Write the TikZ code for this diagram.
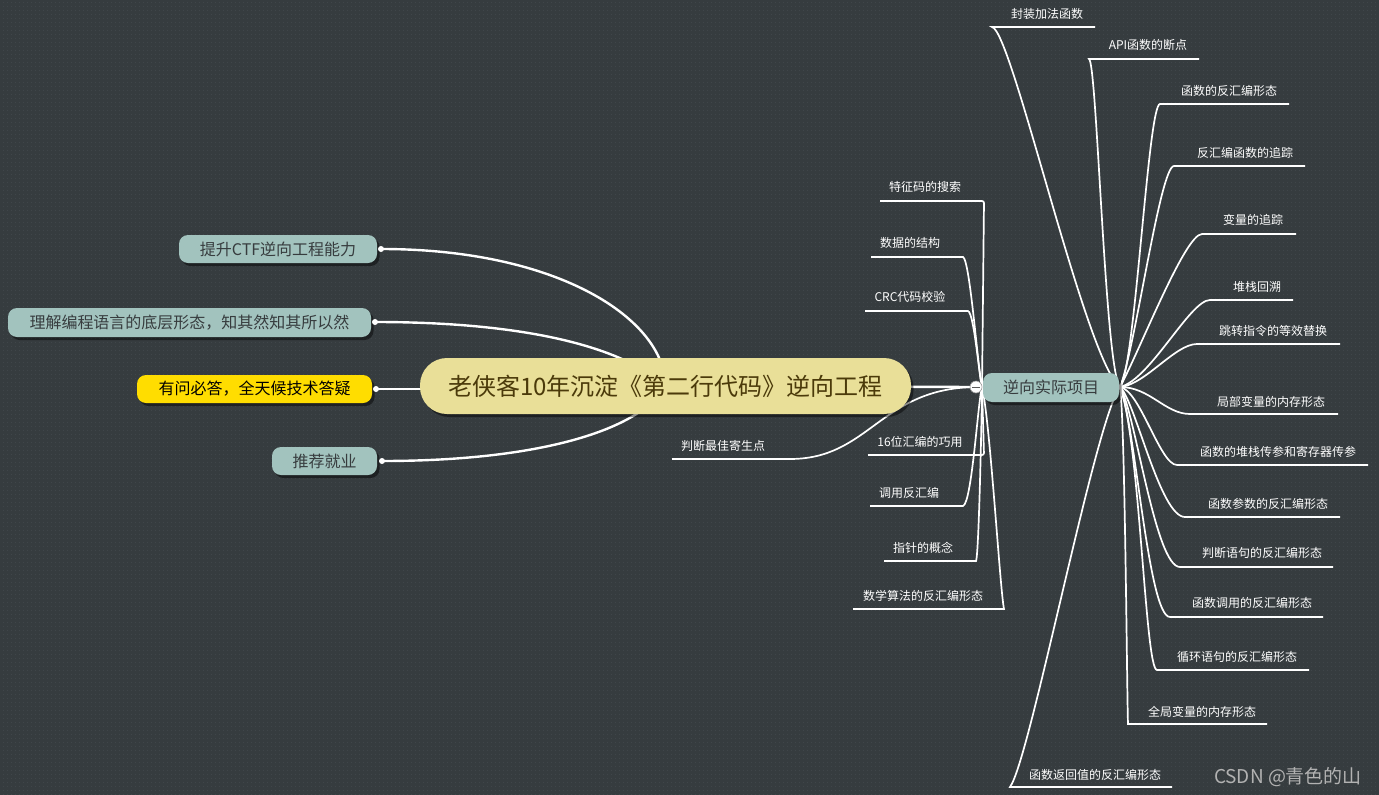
\documentclass[tikz,border=0pt]{standalone}
\usepackage{fontspec}
\newfontfamily\cjk{Noto Sans CJK SC}
\usetikzlibrary{shadows,patterns.meta}
\definecolor{bgc}{RGB}{54,60,63}
\definecolor{bgdot}{RGB}{64,70,74}
\definecolor{tealc}{RGB}{162,195,190}
\definecolor{creamc}{RGB}{233,223,152}
\definecolor{yellc}{RGB}{255,221,0}
\definecolor{tealtext}{RGB}{55,60,62}
\definecolor{centertext}{RGB}{75,58,10}
\definecolor{wmark}{RGB}{178,178,178}
\pgfdeclarelayer{back}
\pgfsetlayers{back,main}
\pgfdeclarepattern{
  name=bgdots, type=uncolored,
  bottom left={\pgfpoint{0pt}{0pt}}, top right={\pgfpoint{4pt}{4pt}},
  tile size={\pgfpoint{4pt}{4pt}},
  code={\pgfpathrectangle{\pgfpointorigin}{\pgfpoint{1.2pt}{1.2pt}}\pgfusepath{fill}}}
\begin{document}
\begin{tikzpicture}[x=1pt,y=-1pt,
  conn/.style={draw=white, line width=2.4pt},
  br/.style={draw=white, line width=1.7pt},
  lbl/.style={font=\cjk\fontsize{12}{14}\selectfont, text=white, inner sep=0pt},
  shad/.style={drop shadow={shadow xshift=2.5pt, shadow yshift=-3pt, opacity=.45, fill=black}},
  topic/.style={shad, font=\cjk\fontsize{16}{18}\selectfont, text=tealtext, fill=tealc,
                rounded corners=9pt, inner sep=0pt, minimum height=28pt},
  dotc/.style={circle, fill=white, inner sep=0pt, minimum size=6pt}]
\useasboundingbox (0,0) rectangle (1379,795);

% ---------- main nodes ----------
\node[shad, fill=creamc, rounded corners=27pt, minimum width=491pt, minimum height=56pt,
      inner sep=0pt, font=\cjk\fontsize{24}{28}\selectfont, text=centertext]
      (cn) at (665.5,386) {老侠客10年沉淀《第二行代码》逆向工程};
\node[topic, minimum width=136pt, minimum height=29pt] (rn) at (1051,387.5) {逆向实际项目};

\node[topic, minimum width=198pt] (l1) at (278,249) {提升CTF逆向工程能力};
\node[topic, minimum width=363pt, minimum height=29pt] (l2) at (189.5,322.5) {理解编程语言的底层形态，知其然知其所以然};
\node[topic, fill=yellc, text=black, minimum width=235pt] (l3) at (254.5,389) {有问必答，全天候技术答疑};
\node[topic, minimum width=105pt] (l4) at (324.5,461) {推荐就业};

\node[dotc] (d1) at (381,249) {};
\node[dotc] (d2) at (375,322) {};
\node[dotc] (d3) at (376,389) {};
\node[dotc] (d4) at (382,461) {};

% collapse button
\node[circle, fill=white, draw=gray!80, line width=0.6pt, minimum size=12pt, inner sep=0pt] (btn) at (976,387) {};
\draw[gray!70!black, line width=1pt] ([xshift=-4pt]btn.center) -- ([xshift=4pt]btn.center);

\coordinate (P) at (982,387);
\coordinate (O) at (1120,387);

% ---------- left-hand children of 逆向实际项目 ----------
\node[lbl] (a1) at (925,187) {特征码的搜索};
\node[lbl] (a2) at (910,243) {数据的结构};
\node[lbl] (a3) at (910,297) {CRC代码校验};
\node[lbl] (a4) at (920,442) {16位汇编的巧用};
\node[lbl] (a5) at (909,493) {调用反汇编};
\node[lbl] (a6) at (923,548) {指针的概念};
\node[lbl] (a7) at (923,596) {数学算法的反汇编形态};
\node[lbl] (a8) at (723,446) {判断最佳寄生点};
\coordinate (a1l) at (880,201); \coordinate (a1r) at (984,201);
\coordinate (a2l) at (871,257); \coordinate (a2r) at (963,257);
\coordinate (a3l) at (865,311); \coordinate (a3r) at (968,311);
\coordinate (a4l) at (868,455); \coordinate (a4r) at (984,455);
\coordinate (a5l) at (870,506); \coordinate (a5r) at (963,506);
\coordinate (a6l) at (884,561); \coordinate (a6r) at (976,561);
\coordinate (a7l) at (853,609); \coordinate (a7r) at (1004,609);
\coordinate (a8l) at (672,459); \coordinate (a8r) at (790,459);

% ---------- right-hand children ----------
\node[lbl] (b1) at (1047,14) {封装加法函数};
\node[lbl] (b2) at (1148,45) {API函数的断点};
\node[lbl] (b3) at (1229,91) {函数的反汇编形态};
\node[lbl] (b4) at (1245,153) {反汇编函数的追踪};
\node[lbl] (b5) at (1253,220) {变量的追踪};
\node[lbl] (b6) at (1257,287) {堆栈回溯};
\node[lbl] (b7) at (1273,331) {跳转指令的等效替换};
\node[lbl] (b8) at (1271,402) {局部变量的内存形态};
\node[lbl] (b9) at (1278,452) {函数的堆栈传参和寄存器传参};
\node[lbl] (b10) at (1268,504) {函数参数的反汇编形态};
\node[lbl] (b11) at (1262,553) {判断语句的反汇编形态};
\node[lbl] (b12) at (1252,603) {函数调用的反汇编形态};
\node[lbl] (b13) at (1237,657) {循环语句的反汇编形态};
\node[lbl] (b14) at (1202,712) {全局变量的内存形态};
\node[lbl] (b15) at (1095,775) {函数返回值的反汇编形态};
\coordinate (b1l) at (992,27);   \coordinate (b1r) at (1095,27);
\coordinate (b2l) at (1089,59);  \coordinate (b2r) at (1199,59);
\coordinate (b3l) at (1160,104); \coordinate (b3r) at (1289,104);
\coordinate (b4l) at (1174,166); \coordinate (b4r) at (1305,166);
\coordinate (b5l) at (1202,234); \coordinate (b5r) at (1296,234);
\coordinate (b6l) at (1210,300); \coordinate (b6r) at (1293,300);
\coordinate (b7l) at (1197,344); \coordinate (b7r) at (1340,344);
\coordinate (b8l) at (1190,414); \coordinate (b8r) at (1338,414);
\coordinate (b9l) at (1177,465); \coordinate (b9r) at (1368,465);
\coordinate (b10l) at (1185,517); \coordinate (b10r) at (1340,517);
\coordinate (b11l) at (1180,567); \coordinate (b11r) at (1333,567);
\coordinate (b12l) at (1170,617); \coordinate (b12r) at (1323,617);
\coordinate (b13l) at (1157,670); \coordinate (b13r) at (1309,670);
\coordinate (b14l) at (1128,724); \coordinate (b14r) at (1267,724);
\coordinate (b15l) at (1010,787); \coordinate (b15r) at (1172,787);

\node[font=\cjk\fontsize{19}{22}\selectfont, text=wmark, inner sep=0pt] (wm) at (1288,777) {CSDN @青色的山};

% ---------- connectors (behind nodes) ----------
\begin{pgfonlayer}{back}
\fill[bgc] (0,0) rectangle (1379,795);
\fill[pattern={bgdots}, pattern color=bgdot] (0,0) rectangle (1379,795);
% main topics
\draw[conn] (d1.center) .. controls (560,249) and (665,320) .. (cn.center);
\draw[conn] (d2.center) .. controls (520,322) and (620,345) .. (cn.center);
\draw[conn] (d3.center) -- (cn.center |- d3.center);
\draw[conn] (d4.center) .. controls (540,461) and (640,430) .. (cn.center);
\draw[conn] (cn.center) -- (btn.center);
% left-hand branches
\draw[br, rounded corners=2pt] (a1l) -- (a1r) -- (P);
\draw[br] (a2l) -- (a2r) .. controls (970,260) and (978,370) .. (P);
\draw[br] (a3l) -- (a3r) .. controls (974,313) and (979,375) .. (P);
\draw[br, rounded corners=2pt] (a4l) -- (a4r) -- (P);
\draw[br] (a5l) -- (a5r) .. controls (972,503) and (978,400) .. (P);
\draw[br] (a6l) -- (a6r) .. controls (979,555) and (982,400) .. (P);
\draw[br] (a7l) -- (a7r) .. controls (1000,590) and (990,420) .. (P);
\draw[br] (a8l) -- (a8r) .. controls (870,459) and (880,388) .. (btn.center);
% right-hand branches
\draw[br] (b1r) -- (b1l) .. controls (1012,30) and (1085,360) .. (O);
\draw[br] (b2r) -- (b2l) .. controls (1097,62) and (1105,370) .. (O);
\draw[br] (b3r) -- (b3l) .. controls (1148,104) and (1135,370) .. (O);
\draw[br] (b4r) -- (b4l) .. controls (1160,166) and (1135,350) .. (O);
\draw[br] (b5r) -- (b5l) .. controls (1185,234) and (1140,350) .. (O);
\draw[br] (b6r) -- (b6l) .. controls (1190,300) and (1150,380) .. (O);
\draw[br] (b7r) -- (b7l) .. controls (1175,344) and (1145,385) .. (O);
\draw[br] (b8r) -- (b8l) .. controls (1165,414) and (1150,387) .. (O);
\draw[br] (b9r) -- (b9l) .. controls (1160,465) and (1140,390) .. (O);
\draw[br] (b10r) -- (b10l) .. controls (1160,517) and (1135,400) .. (O);
\draw[br] (b11r) -- (b11l) .. controls (1155,567) and (1135,410) .. (O);
\draw[br] (b12r) -- (b12l) .. controls (1148,617) and (1135,420) .. (O);
\draw[br] (b13r) -- (b13l) .. controls (1145,670) and (1140,440) .. (O);
\draw[br] (b14r) -- (b14l) .. controls (1127,700) and (1125,420) .. (O);
\draw[br] (b15r) -- (b15l) .. controls (1030,760) and (1095,420) .. (O);
\end{pgfonlayer}
\end{tikzpicture}
\end{document}
